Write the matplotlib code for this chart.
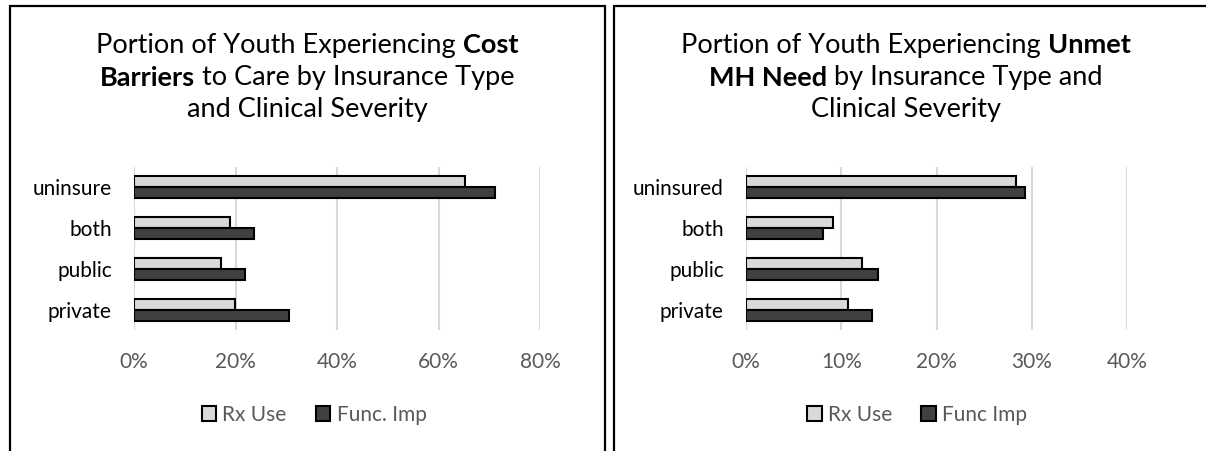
import matplotlib.pyplot as plt
from matplotlib.patches import Rectangle, Patch
import numpy as np

plt.rcParams['font.family'] = ['Lato', 'DejaVu Sans']

categories_left = ["private", "public", "both", "uninsure"]
categories_right = ["private", "public", "both", "uninsured"]

cost_rx = [0.199, 0.171, 0.189, 0.652]
cost_func = [0.306, 0.219, 0.236, 0.711]

unmet_rx = [0.107, 0.122, 0.091, 0.283]
unmet_func = [0.132, 0.139, 0.081, 0.293]

ticks_left = [0, 0.2, 0.4, 0.6, 0.8]
ticks_right = [0, 0.1, 0.2, 0.3, 0.4]

W, H = 1206, 451
fig = plt.figure(figsize=(W / 100, H / 100), dpi=100)

light = "#d9d9d9"
dark = "#404040"
grid = "#d9d9d9"
txt = "#595959"


def px_axes(x0, x1, ytop, ybot):
    return fig.add_axes([x0 / W, (H - ybot) / H, (x1 - x0) / W, (ybot - ytop) / H])


def draw_chart(ax, cats, rx, func, ticks, leg_labels, leg_x):
    y = np.arange(len(cats))
    h = 0.27
    ax.barh(y + h / 2, rx, h, color=light, edgecolor="black", linewidth=1.5, zorder=3)
    ax.barh(y - h / 2, func, h, color=dark, edgecolor="black", linewidth=1.5, zorder=3)
    ax.set_xlim(0, ticks[-1])
    ax.set_ylim(-0.5, len(cats) - 0.5)
    ax.set_xticks(ticks)
    ax.set_xticklabels(["{:.0f}%".format(t * 100) for t in ticks])
    ax.set_yticks(y)
    ax.set_yticklabels(cats)
    ax.tick_params(axis="both", length=0)
    ax.tick_params(axis="x", pad=16, labelsize=15, labelcolor=txt)
    ax.tick_params(axis="y", pad=16, labelsize=15, labelcolor="black")
    for s in ax.spines.values():
        s.set_visible(False)
    ax.grid(axis="x", color=grid, linewidth=1.5, zorder=0)
    ax.set_axisbelow(True)
    handles = [Patch(facecolor=light, edgecolor="black", linewidth=1.5),
               Patch(facecolor=dark, edgecolor="black", linewidth=1.5)]
    ax.legend(handles, leg_labels, loc="center", bbox_to_anchor=(leg_x / W, (H - 415) / H),
              bbox_transform=fig.transFigure, ncol=2, frameon=False,
              handlelength=0.7, handleheight=0.7, handletextpad=0.3,
              columnspacing=1.4, labelcolor=txt, fontsize=15)


def title_lines(cx, lines, size=19.5):
    renderer = fig.canvas.get_renderer()
    for ypix, segs in lines:
        objs = []
        for s, bold in segs:
            t = fig.text(0, (H - ypix) / H, s, fontsize=size, va="center", ha="left",
                         fontweight="bold" if bold else "normal", color="black")
            objs.append(t)
        widths = [o.get_window_extent(renderer).width for o in objs]
        x = cx - sum(widths) / 2
        for o, w in zip(objs, widths):
            o.set_x(x / W)
            x += w


ax1 = px_axes(134, 540, 167, 330)
draw_chart(ax1, categories_left, cost_rx, cost_func, ticks_left, ["Rx Use", "Func. Imp"], 314)

ax2 = px_axes(746, 1127, 167, 330)
draw_chart(ax2, categories_right, unmet_rx, unmet_func, ticks_right, ["Rx Use", "Func Imp"], 917)

title_lines(307, [
    (45, [("Portion of Youth Experiencing ", False), ("Cost", True)]),
    (78, [("Barriers", True), (" to Care by Insurance Type", False)]),
    (110, [("and Clinical Severity", False)]),
])
title_lines(906, [
    (45, [("Portion of Youth Experiencing ", False), ("Unmet", True)]),
    (78, [("MH Need", True), (" by Insurance Type and", False)]),
    (110, [("Clinical Severity", False)]),
])

# panel frames
fig.patches.append(Rectangle((10 / W, -0.1), 595 / W, (H - 6) / H + 0.1,
                             transform=fig.transFigure, fill=False,
                             edgecolor="black", linewidth=1.6))
fig.patches.append(Rectangle((614 / W, -0.1), 600 / W, (H - 6) / H + 0.1,
                             transform=fig.transFigure, fill=False,
                             edgecolor="black", linewidth=1.6))

# leftover descender from text above the panels
fig.text(87 / W, (H + 8) / H, "y", fontsize=16, fontweight="bold", va="baseline")

fig.savefig("out.png", dpi=100)
